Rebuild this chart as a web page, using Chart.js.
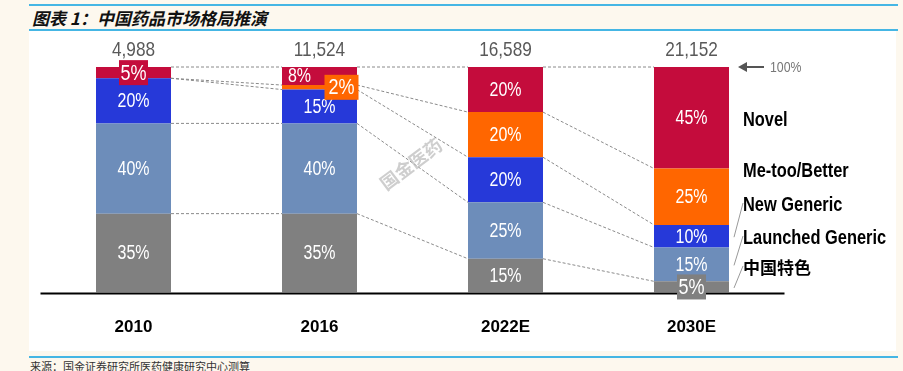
<!DOCTYPE html>
<html>
<head>
<meta charset="utf-8">
<script src="https://cdn.jsdelivr.net/npm/chart.js@4"></script>
<style>
  body { margin: 0; background: #fdf8ee; width: 903px; height: 371px; position: relative; overflow: hidden; }
  .rule { position: absolute; left: 29px; width: 869px; height: 2px; background: #45b6e4; }
  .panel { position: absolute; left: 29px; top: 31px; width: 867px; height: 320px; background: #fff; }
  .title { position: absolute; left: 32px; top: 5px; font: italic bold 17px "Noto Sans CJK SC", sans-serif; color: #111; }
  .source { position: absolute; left: 30px; top: 358px; font: 11px "Noto Sans CJK SC", sans-serif; color: #333; }
  canvas { position: absolute; left: 0; top: 0; }
</style>
</head>
<body>
<div class="rule" style="top:4px"></div>
<div class="title">图表 1：中国药品市场格局推演</div>
<div class="rule" style="top:29px"></div>
<div class="panel"></div>
<div class="rule" style="top:356px"></div>
<div class="source">来源：国金证券研究所医药健康研究中心测算</div>
<canvas id="chart" width="903" height="371"></canvas>
<script>
const ctx = document.getElementById('chart');

const categories = ['2010', '2016', '2022E', '2030E'];
const totals = [4988, 11524, 16589, 21152];

// shares in %, bottom segment first
const special = [35, 35, 15, 5];      // 中国特色
const launched = [40, 40, 25, 15];    // Launched Generic
const newGeneric = [20, 15, 20, 10];  // New Generic
const metoo = [0, 2, 20, 25];         // Me-too/Better
const novel = [5, 8, 20, 45];         // Novel

const seriesNames = ['中国特色', 'Launched Generic', 'New Generic', 'Me-too/Better', 'Novel'];
const colors = ['#808080', '#6d8dba', '#2639d9', '#ff6600', '#c40c3c'];

const sans = '"Liberation Sans", Arial, sans-serif';

// no narrow font installed, so squeeze the text horizontally
function narrowText(c, text, x, y, align) {
    c.save();
    c.translate(x, y);
    c.scale(0.82, 1);
    c.textAlign = align || 'center';
    c.fillText(text, 0, 0);
    c.restore();
}

const decoPlugin = {
    id: 'deco',
    beforeDatasetsDraw(chart) {
        const c = chart.ctx;
        const metas = chart.data.datasets.map((d, i) => chart.getDatasetMeta(i));
        c.save();
        c.strokeStyle = '#8a8a8a';
        c.lineWidth = 1;
        c.setLineDash([3, 2]);
        for (let i = 0; i < categories.length - 1; i++) {
            metas.forEach(m => {
                const a = m.data[i], b = m.data[i + 1];
                c.beginPath();
                c.moveTo(a.x + a.width / 2, a.y);
                c.lineTo(b.x - b.width / 2, b.y);
                c.stroke();
            });
        }
        c.restore();

        // watermark
        c.save();
        c.translate(411, 164);
        c.rotate(-37 * Math.PI / 180);
        c.font = 'bold 18px "Noto Sans CJK SC", sans-serif';
        c.fillStyle = 'rgba(190,190,190,0.75)';
        c.textAlign = 'center';
        c.textBaseline = 'middle';
        c.fillText('国金医药', 0, 0);
        c.restore();
    },
    afterDatasetsDraw(chart) {
        const c = chart.ctx;
        const ds = chart.data.datasets;
        const area = chart.chartArea;
        c.save();

        // baseline
        const y0 = chart.scales.y.getPixelForValue(0);
        c.strokeStyle = '#000';
        c.lineWidth = 2;
        c.beginPath();
        c.moveTo(area.left, y0 + 1);
        c.lineTo(area.right, y0 + 1);
        c.stroke();

        c.textBaseline = 'middle';

        // segment labels
        ds.forEach((d, di) => {
            const meta = chart.getDatasetMeta(di);
            d.data.forEach((v, i) => {
                if (!v) return;
                const bar = meta.data[i];
                let cx = bar.x;
                const cy = (bar.y + bar.base) / 2;
                const tiny = ds.some(o => o.data[i] > 0 && o.data[i] < 5);
                if (v <= 5) {
                    const w = v < 5 ? 34 : 29;
                    if (v < 5) cx += 22;
                    c.fillStyle = d.backgroundColor;
                    c.fillRect(cx - w / 2, cy - 12.5, w, 25);
                    c.font = '22px ' + sans;
                } else {
                    if (tiny && v < 10) cx -= 20;
                    c.font = '19.5px ' + sans;
                }
                c.fillStyle = '#fff';
                narrowText(c, v + '%', cx, cy + 1);
            });
        });

        // totals above bars
        const topMeta = chart.getDatasetMeta(ds.length - 1);
        c.font = '21px ' + sans;
        c.fillStyle = '#595959';
        totals.forEach((t, i) => {
            const bar = topMeta.data[i];
            narrowText(c, t.toLocaleString('en-US'), bar.x, bar.y - 17);
        });

        // 100% arrow
        const last = topMeta.data[categories.length - 1];
        const ax = last.x + last.width / 2 + 9;
        const ay = last.y;
        c.strokeStyle = '#555';
        c.fillStyle = '#555';
        c.lineWidth = 2;
        c.beginPath();
        c.moveTo(ax + 6, ay);
        c.lineTo(ax + 26, ay);
        c.stroke();
        c.beginPath();
        c.moveTo(ax, ay);
        c.lineTo(ax + 9, ay - 5);
        c.lineTo(ax + 9, ay + 5);
        c.closePath();
        c.fill();
        c.font = '15px ' + sans;
        c.fillStyle = '#777';
        narrowText(c, '100%', ax + 32, ay + 1, 'left');

        // series names on the right
        const lx = last.x + last.width / 2 + 14;
        const labelY = [268, 238, 205, 171, 120];
        c.fillStyle = '#000';
        ds.forEach((d, di) => {
            if (di === 0) {
                c.font = 'bold 17px "Noto Sans CJK SC", sans-serif';
                c.textAlign = 'left';
                c.fillText(d.label, lx, labelY[di]);
            } else {
                c.font = 'bold 20px ' + sans;
                narrowText(c, d.label, lx, labelY[di], 'left');
            }
        });
        // leader lines
        c.strokeStyle = '#999';
        c.lineWidth = 1;
        [0, 1, 2].forEach(di => {
            const bar = chart.getDatasetMeta(di).data[categories.length - 1];
            c.beginPath();
            c.moveTo(lx, labelY[di] - 2);
            c.lineTo(lx - 9, (bar.y + bar.base) / 2 + 1);
            c.stroke();
        });
        c.restore();
    }
};

const data = {
    labels: categories,
    datasets: [special, launched, newGeneric, metoo, novel].map((values, i) => ({
        label: seriesNames[i],
        data: values,
        backgroundColor: colors[i],
        borderWidth: 0,
        barPercentage: 1,
        categoryPercentage: 75 / 186
    }))
};

const options = {
    responsive: false,
    animation: false,
    layout: {
        padding: { left: 40.5, right: 118.5, top: 67, bottom: 16 }
    },
    plugins: {
        legend: { display: false },
        tooltip: { enabled: false }
    },
    scales: {
        x: {
            stacked: true,
            grid: { display: false },
            border: { display: false },
            ticks: {
                color: '#000',
                padding: 17,
                font: { family: sans, size: 17, weight: 'bold' }
            }
        },
        y: {
            stacked: true,
            display: false,
            min: 0,
            max: 100
        }
    }
};

const config = {
    type: 'bar',
    data: data,
    options: options,
    plugins: [decoPlugin]
};

const marketChart = new Chart(ctx, config);
</script>
</body>
</html>
